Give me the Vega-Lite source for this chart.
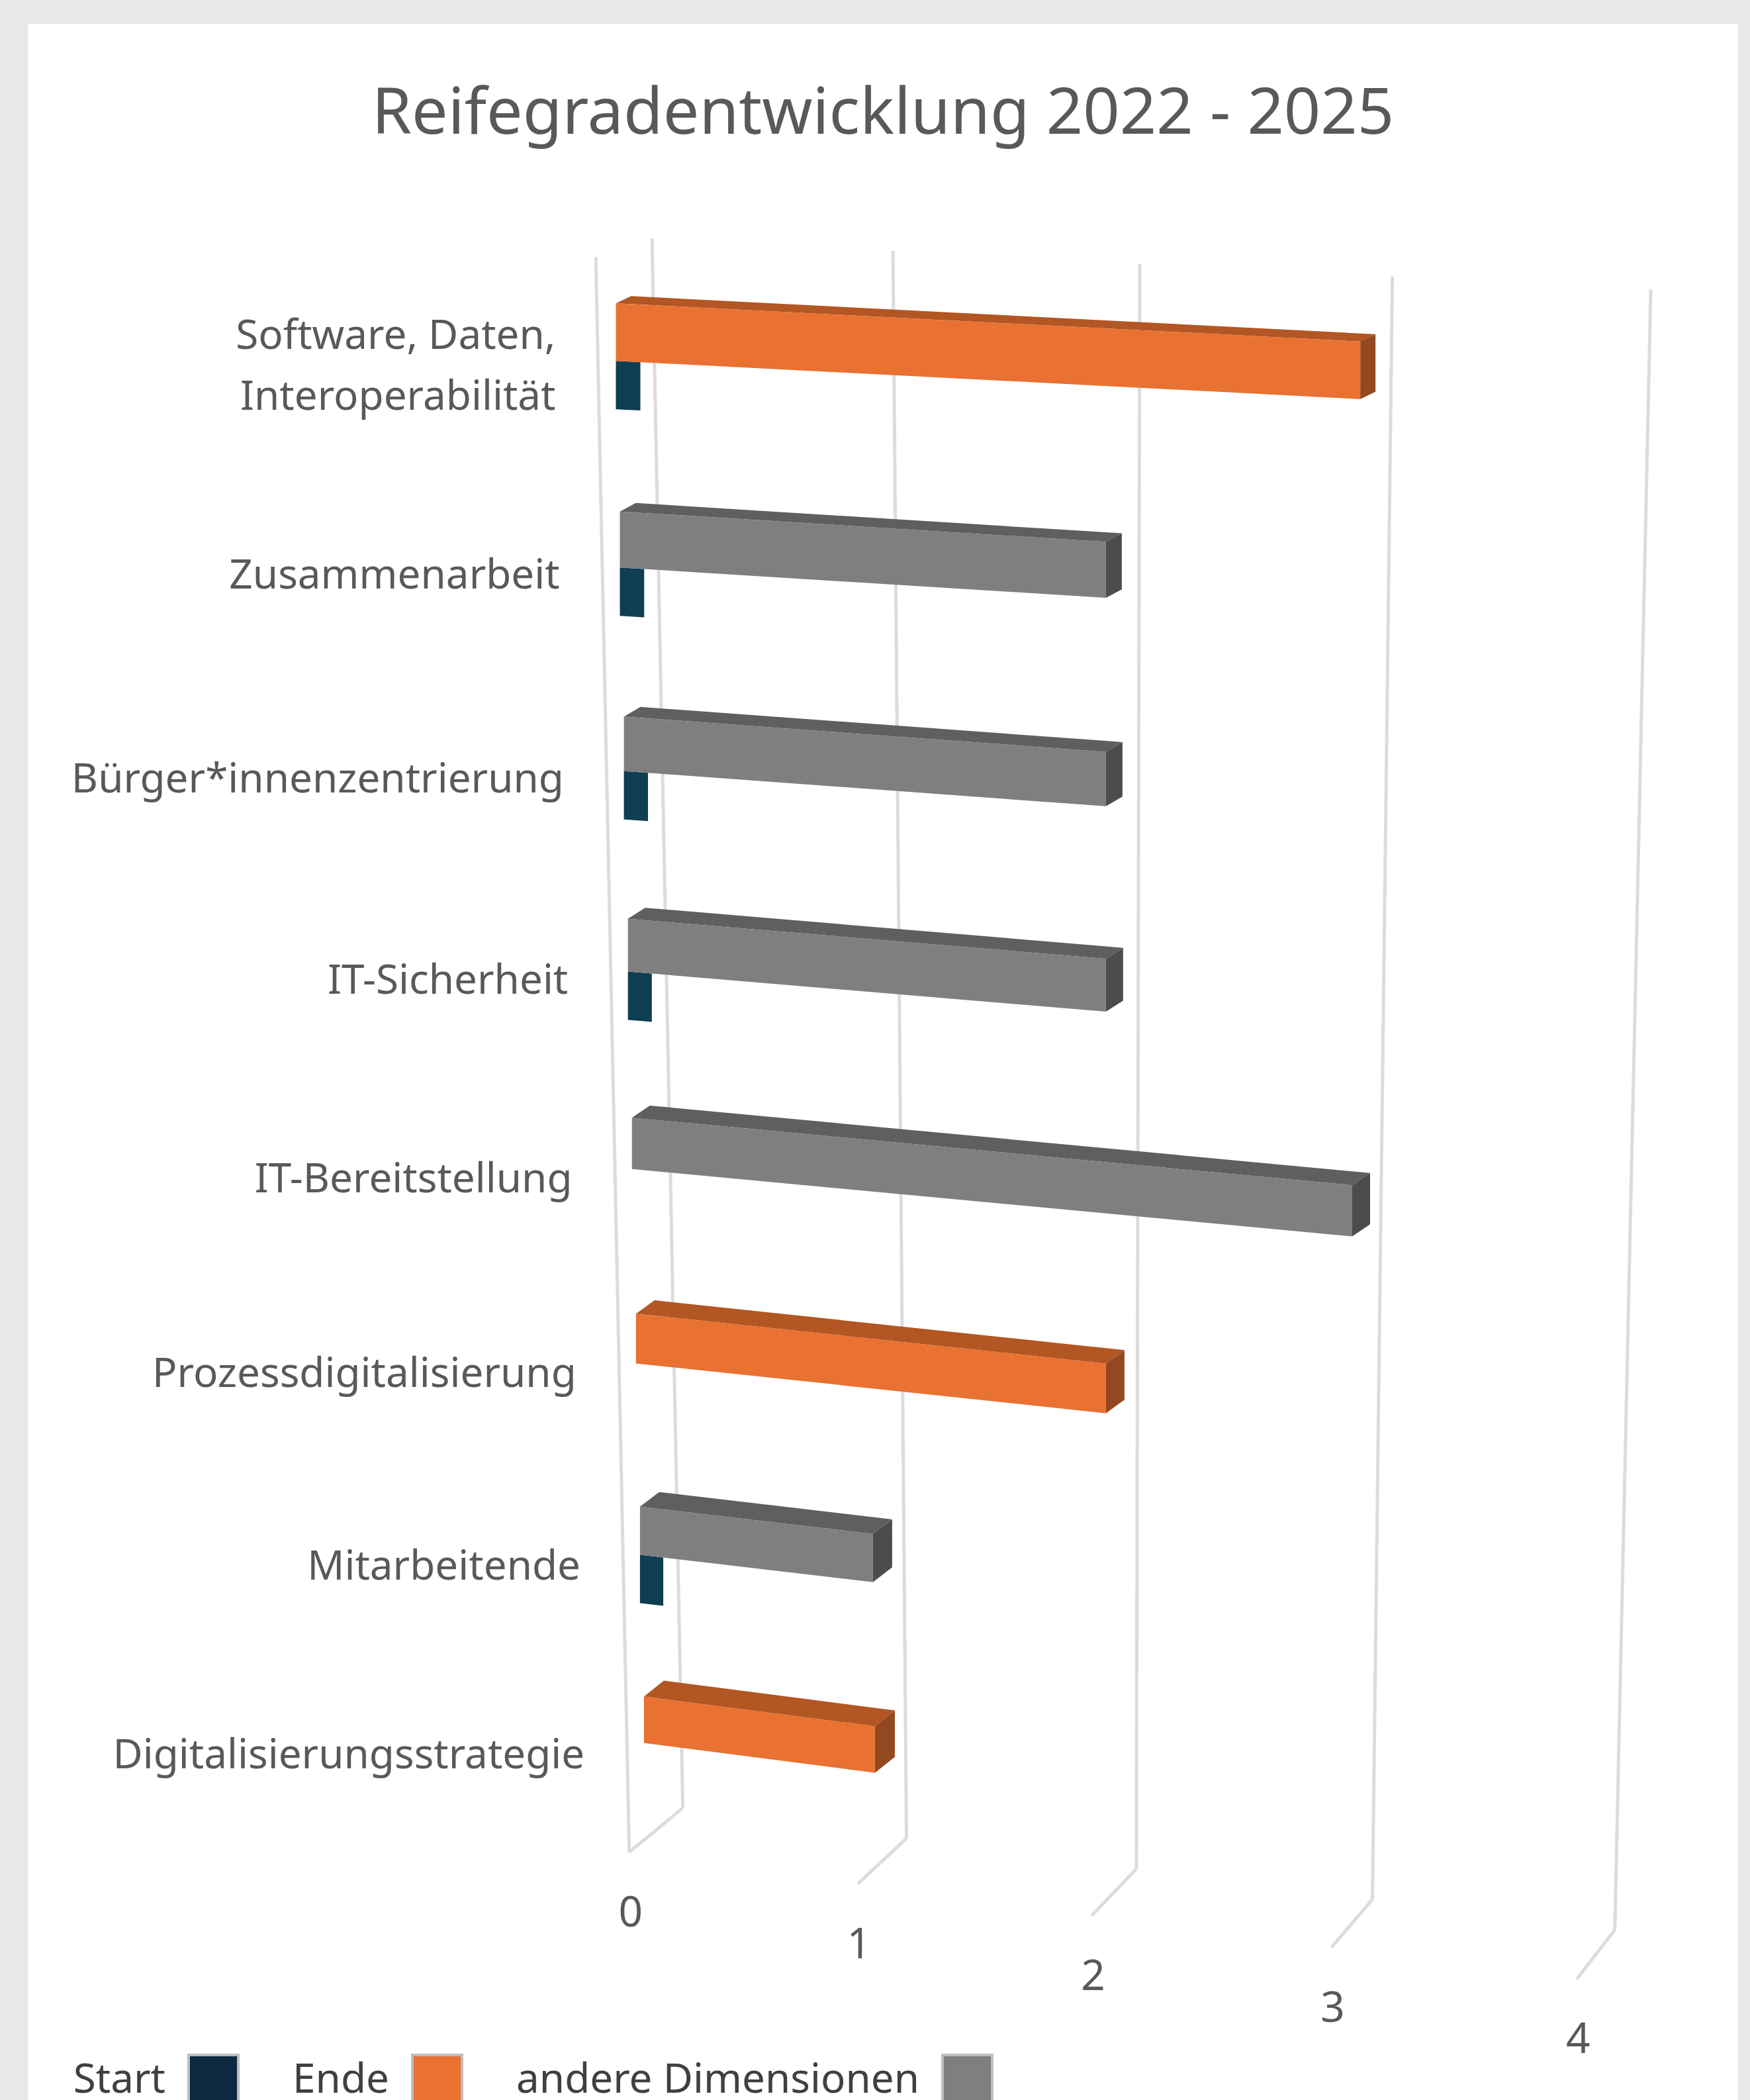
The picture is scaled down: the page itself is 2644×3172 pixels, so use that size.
{
"$schema":"https://vega.github.io/schema/vega-lite/v6.json",
"width":2584,"height":3136,"autosize":{"type":"none"},
"padding":{"left":42,"top":36,"right":18,"bottom":0},
"background":"#E8E8E8",
"config":{"view":{"fill":"white","stroke":null},"font":"Noto Sans"},
"title":{"text":"Reifegradentwicklung 2022 - 2025","font":"Noto Sans","fontSize":97,"fontWeight":"normal","color":"#595959","anchor":"middle","baseline":"middle","offset":-234,"frame":"group"},
"layer":[
{"data":{"values":[{"tick":0},{"tick":1},{"tick":2},{"tick":3},{"tick":4}]},
 "transform":[
  {"calculate":"(27+177.8*datum.tick+2.17*datum.tick*datum.tick)/183","as":"XA"},
  {"calculate":"(178+9.5*datum.tick-226)/150","as":"YA"},
  {"calculate":"(50+164.7*datum.tick+2.33*datum.tick*datum.tick)/183","as":"XB"},
  {"calculate":"(1350+22.75*datum.tick-226)/150","as":"YB"},
  {"calculate":"(10+168.5*datum.tick+2.1*datum.tick*datum.tick)/183","as":"XC"},
  {"calculate":"(1383+23.7*datum.tick-226)/150","as":"YC"}
 ],
 "layer":[
  {"mark":{"type":"rule","stroke":"#DCDCDC","strokeWidth":5},
   "encoding":{"x":{"field":"XA","type":"quantitative","scale":{"domain":[-2.4,4.58],"nice":false,"zero":false},"axis":null},
    "y":{"field":"YA","type":"quantitative","scale":{"domain":[-1.388,8.947],"nice":false,"zero":false,"reverse":true},"axis":null},
    "x2":{"field":"XB"},"y2":{"field":"YB"}}},
  {"mark":{"type":"rule","stroke":"#DCDCDC","strokeWidth":5},
   "encoding":{"x":{"field":"XB","type":"quantitative"},"y":{"field":"YB","type":"quantitative"},"x2":{"field":"XC"},"y2":{"field":"YC"}}},
  {"transform":[{"filter":"datum.tick===0"},{"calculate":"-15/183","as":"XW"},{"calculate":"-34/150","as":"YW"}],
   "mark":{"type":"rule","stroke":"#DCDCDC","strokeWidth":5},
   "encoding":{"x":{"field":"XW","type":"quantitative"},"y":{"field":"YW","type":"quantitative"},"x2":{"field":"XC"},"y2":{"field":"YC"}}},
  {"transform":[{"calculate":"datum.YC+46/150","as":"YL"},{"calculate":"datum.XC+1/183","as":"XL"}],
   "mark":{"type":"text","fontSize":64,"color":"#595959","align":"center","baseline":"middle"},
   "encoding":{"x":{"field":"XL","type":"quantitative"},"y":{"field":"YL","type":"quantitative"},"text":{"field":"tick","type":"nominal"}}}
 ]},
{"data":{"values":[
  {"category":"Software, Daten,\nInteroperabilität","series":"Ende","value":3},
  {"category":"Software, Daten,\nInteroperabilität","series":"Start","value":0.1},
  {"category":"Zusammenarbeit","series":"andere Dimensionen","value":2},
  {"category":"Zusammenarbeit","series":"Start","value":0.1},
  {"category":"Bürger*innenzentrierung","series":"andere Dimensionen","value":2},
  {"category":"Bürger*innenzentrierung","series":"Start","value":0.1},
  {"category":"IT-Sicherheit","series":"andere Dimensionen","value":2},
  {"category":"IT-Sicherheit","series":"Start","value":0.1},
  {"category":"IT-Bereitstellung","series":"andere Dimensionen","value":3},
  {"category":"Prozessdigitalisierung","series":"Ende","value":2},
  {"category":"Mitarbeitende","series":"andere Dimensionen","value":1},
  {"category":"Mitarbeitende","series":"Start","value":0.1},
  {"category":"Digitalisierungsstrategie","series":"Ende","value":1}
 ]},
 "transform":[
  {"calculate":"indexof(['Software, Daten,\\nInteroperabilität','Zusammenarbeit','Bürger*innenzentrierung','IT-Sicherheit','IT-Bereitstellung','Prozessdigitalisierung','Mitarbeitende','Digitalisierungsstrategie'],datum.category)","as":"r"},
  {"calculate":"0.0164*datum.r","as":"X0"},
  {"calculate":"datum.value+(1-datum.value/2)*0.0164*datum.r+max(0,datum.value-2)*0.038","as":"X1"},
  {"calculate":"(22+156*datum.r-1.14*datum.r*datum.r)/150","as":"C0"},
  {"calculate":"datum.C0+datum.value*(9.5+1.82*datum.r)/150","as":"C1"},
  {"calculate":"(87-2.4*datum.r)/2/2.023/150","as":"H"},
  {"calculate":"(23+datum.r)/2.023/183","as":"dx"},
  {"calculate":"-(11+1.86*datum.r)/2.023/150","as":"dy"},
  {"calculate":"[0,1,2,3]","as":"st"}
 ],
 "layer":[
  {"transform":[{"filter":"datum.series==='Start'"},{"flatten":["st"]},{"filter":"datum.st<2"},
    {"calculate":"datum.st==0?datum.X0:datum.X1","as":"px"},
    {"calculate":"(datum.st==0?datum.C0:datum.C1)+datum.H","as":"up"},
    {"calculate":"datum.up+73/2.023/150","as":"lo"}],
   "mark":{"type":"area","orient":"vertical","color":"#0F3D52"},
   "encoding":{"x":{"field":"px","type":"quantitative"},"y":{"field":"up","type":"quantitative","stack":null},"y2":{"field":"lo"},"detail":{"field":"category","type":"nominal"}}},
  {"transform":[{"filter":"datum.series!=='Start'"},{"flatten":["st"]},
    {"calculate":"datum.C0-datum.H","as":"T0"},{"calculate":"datum.C1-datum.H","as":"T1"},
    {"calculate":"datum.st==0?datum.X0:datum.st==1?datum.X0+datum.dx:datum.st==2?datum.X1:datum.X1+datum.dx","as":"px"},
    {"calculate":"datum.st==0?datum.T0:datum.st==1?datum.T0+datum.dy:datum.st==2?datum.T0+datum.dy+(datum.T1-datum.T0)*(datum.X1-datum.X0-datum.dx)/(datum.X1-datum.X0):datum.T1+datum.dy","as":"up"},
    {"calculate":"datum.st==0?datum.T0:datum.st==1?datum.T0+(datum.T1-datum.T0)*datum.dx/(datum.X1-datum.X0):datum.st==2?datum.T1:datum.T1+datum.dy","as":"lo"}],
   "mark":{"type":"area","orient":"vertical"},
   "encoding":{"x":{"field":"px","type":"quantitative"},"y":{"field":"up","type":"quantitative","stack":null},"y2":{"field":"lo"},"detail":{"field":"category","type":"nominal"},
    "color":{"condition":{"test":"datum.series==='Ende'","value":"#B25623"},"value":"#5F5F5F"}}},
  {"transform":[{"filter":"datum.series!=='Start'"},{"flatten":["st"]},{"filter":"datum.st<2"},
    {"calculate":"datum.X1+datum.st*datum.dx","as":"px"},
    {"calculate":"datum.C1-datum.H+datum.st*datum.dy","as":"up"},
    {"calculate":"datum.C1+datum.H+datum.st*datum.dy","as":"lo"}],
   "mark":{"type":"area","orient":"vertical"},
   "encoding":{"x":{"field":"px","type":"quantitative"},"y":{"field":"up","type":"quantitative","stack":null},"y2":{"field":"lo"},"detail":{"field":"category","type":"nominal"},
    "color":{"condition":{"test":"datum.series==='Ende'","value":"#93481F"},"value":"#4C4C4C"}}},
  {"transform":[{"filter":"datum.series!=='Start'"},{"flatten":["st"]},{"filter":"datum.st<2"},
    {"calculate":"datum.st==0?datum.X0:datum.X1","as":"px"},
    {"calculate":"(datum.st==0?datum.C0:datum.C1)-datum.H","as":"up"},
    {"calculate":"(datum.st==0?datum.C0:datum.C1)+datum.H","as":"lo"}],
   "mark":{"type":"area","orient":"vertical"},
   "encoding":{"x":{"field":"px","type":"quantitative"},"y":{"field":"up","type":"quantitative","stack":null},"y2":{"field":"lo"},"detail":{"field":"category","type":"nominal"},
    "color":{"field":"series","type":"nominal","scale":{"domain":["Start","Ende","andere Dimensionen"],"range":["#0E2841","#E97132","#7F7F7F"]},
     "legend":{"title":null,"orient":"none","legendX":241,"legendY":3066,"direction":"horizontal","columns":3,"columnPadding":74,"symbolType":"square","symbolSize":5625,"symbolStrokeColor":"#BDBDBD","symbolStrokeWidth":4,"symbolOpacity":1,"labelFont":"Noto Sans","labelFontSize":62,"labelColor":"#404040","labelAlign":"right","labelOffset":-112,"labelLimit":0,"gridAlign":"each","padding":0,"labelExpr":"datum.label==='andere Dimensionen'?datum.label+'\u00a0':datum.label"}}}},
  {"transform":[{"filter":"datum.series!=='Start'"},
    {"calculate":"(415+3.1*datum.r-460)/183","as":"LX"},
    {"calculate":"datum.C0+(datum.r==0?3:27)/150","as":"LY"}],
   "mark":{"type":"text","align":"right","baseline":"middle","fontSize":62,"color":"#595959","lineBreak":"\n","lineHeight":92},
   "encoding":{"x":{"field":"LX","type":"quantitative"},"y":{"field":"LY","type":"quantitative"},"text":{"field":"category","type":"nominal"}}}
 ]}
]
}
